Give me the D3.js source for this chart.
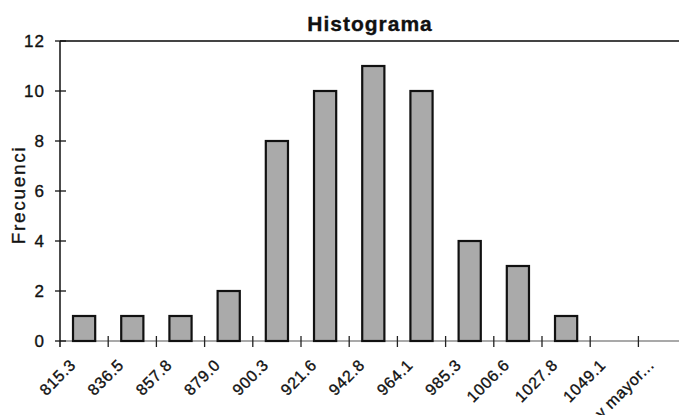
<!DOCTYPE html>
<html>
<head>
<meta charset="utf-8">
<script src="https://cdn.jsdelivr.net/npm/d3@7"></script>
<style>
  html, body { margin: 0; padding: 0; background: #fff; }
  svg { display: block; font-family: "Liberation Sans", Arial, sans-serif; }
  .lbl { fill: #111; stroke: #111; stroke-width: 0.35; }
</style>
</head>
<body>
<svg id="chart" width="679" height="415"></svg>
<script>
// Histogram bins (upper class limits) and their frequencies
const categories = ["815.3", "836.5", "857.8", "879.0", "900.3", "921.6", "942.8",
                    "964.1", "985.3", "1006.6", "1027.8", "1049.1", "y mayor..."];
const frequencies = [1, 1, 1, 2, 8, 10, 11, 10, 4, 3, 1, 0, 0];
const yTicks = [0, 2, 4, 6, 8, 10, 12];
const titleText = "Histograma";
const yLabel = "Frecuenci";

const svg = d3.select("#chart");
const plotLeft = 60, plotTop = 41, plotBottom = 341;
const step = 48.2;
const plotRight = plotLeft + step * categories.length;

const x = d3.scaleBand()
  .domain(categories)
  .range([plotLeft, plotRight])
  .paddingInner(0.54)
  .paddingOuter(0.27);

const y = d3.scaleLinear().domain([0, 12]).range([plotBottom, plotTop]);

// title
svg.append("text")
  .attr("class", "lbl")
  .attr("x", 370).attr("y", 31)
  .attr("text-anchor", "middle")
  .attr("font-weight", "bold")
  .attr("font-size", 21)
  .attr("letter-spacing", 1)
  .text(titleText);

// top border of the plot area
svg.append("line")
  .attr("x1", plotLeft).attr("x2", 679)
  .attr("y1", y(12)).attr("y2", y(12))
  .attr("stroke", "#444").attr("stroke-width", 2);

// x axis baseline
svg.append("line")
  .attr("x1", plotLeft).attr("x2", 679)
  .attr("y1", y(0)).attr("y2", y(0))
  .attr("stroke", "#555").attr("stroke-width", 1.2);

// bars
svg.append("g").selectAll("rect")
  .data(categories.map((c, i) => ({ c, v: frequencies[i] })).filter(d => d.v > 0))
  .join("rect")
  .attr("x", d => x(d.c))
  .attr("y", d => y(d.v))
  .attr("width", x.bandwidth())
  .attr("height", d => y(0) - y(d.v))
  .attr("fill", "#aaaaaa")
  .attr("stroke", "#111")
  .attr("stroke-width", 2.2);

// x ticks at the category boundaries
const boundaries = d3.range(categories.length + 1).map(i => plotLeft + i * x.step());
svg.append("g").selectAll("line")
  .data(boundaries.slice(1))
  .join("line")
  .attr("x1", d => d).attr("x2", d => d)
  .attr("y1", y(0) - 5).attr("y2", y(0) + 6)
  .attr("stroke", "#222").attr("stroke-width", 1.3);

// x tick labels, rotated
svg.append("g").selectAll("text")
  .data(categories)
  .join("text")
  .attr("class", "lbl")
  .attr("transform", d => `translate(${x(d) + x.bandwidth() / 2 - 7.5},366) rotate(-45)`)
  .attr("text-anchor", "end")
  .attr("font-size", 16)
  .attr("letter-spacing", 0.6)
  .text(d => d);

// y axis
svg.append("line")
  .attr("x1", plotLeft).attr("x2", plotLeft)
  .attr("y1", y(12)).attr("y2", y(0) + 6)
  .attr("stroke", "#111").attr("stroke-width", 1.5);

const yt = svg.append("g").selectAll("g").data(yTicks).join("g")
  .attr("transform", d => `translate(0,${y(d)})`);
yt.append("line")
  .attr("x1", plotLeft - 5).attr("x2", plotLeft + 6)
  .attr("stroke", "#111").attr("stroke-width", 1.3);
yt.append("text")
  .attr("class", "lbl")
  .attr("x", 45).attr("dy", "0.36em")
  .attr("text-anchor", "end")
  .attr("font-size", 17)
  .attr("letter-spacing", 1)
  .text(d => d);

// y axis title
svg.append("text")
  .attr("class", "lbl")
  .attr("transform", "translate(25,195) rotate(-90)")
  .attr("text-anchor", "middle")
  .attr("font-size", 19)
  .attr("letter-spacing", 1.7)
  .text(yLabel);
</script>
</body>
</html>
